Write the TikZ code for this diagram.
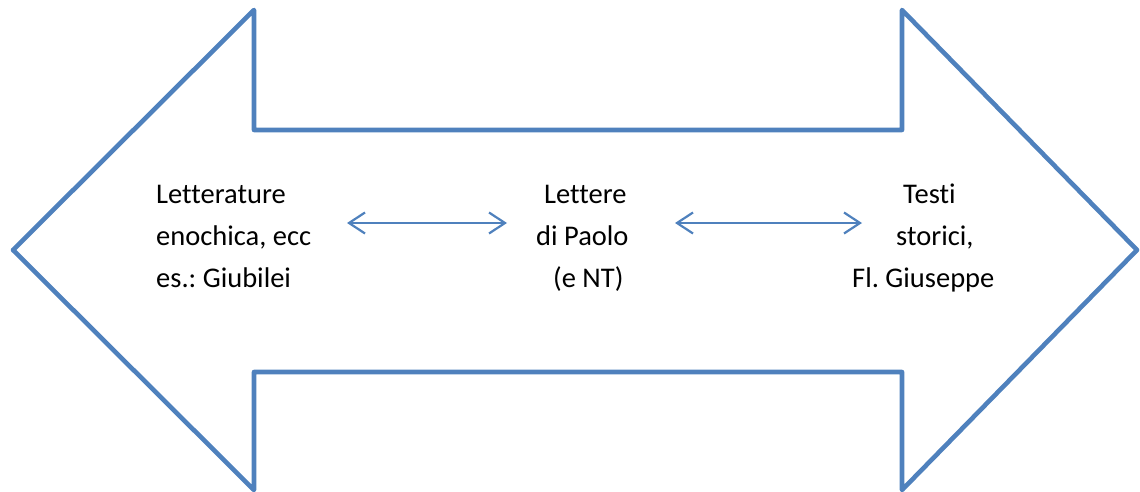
\documentclass[tikz,border=0pt]{standalone}
\usepackage{fontspec}
\setmainfont{Carlito}[Ligatures={NoCommon}]
\usetikzlibrary{arrows.meta}
\definecolor{officeblue}{HTML}{4F81BD}
\frenchspacing
\tikzset{
  outline/.style={draw=officeblue, line width=4.6pt, line join=round},
  link/.style={draw=officeblue, line width=2.2pt,
    {Straight Barb[length=16pt,width=21pt,line width=2.2pt]}-{Straight Barb[length=16pt,width=21pt,line width=2.2pt]}},
  txt/.style={anchor=base west, inner sep=0pt, font=\fontsize{28.5}{34}\selectfont, text=black}
}
\begin{document}
\begin{tikzpicture}[x=1pt, y=-1pt]
  \useasboundingbox (0,0) rectangle (1140,492);
  % double-headed block arrow
  \draw[outline] (13,250) -- (254,10) -- (254,130) -- (902,130) -- (902,10)
    -- (1137,250) -- (902,490) -- (902,372) -- (254,372) -- (254,490) -- cycle;

  % left block of text
  \node[txt] (l1) at (156,203.5) {Letterature};
  \node[txt] (l2) at (156,245) {enochica, ecc};
  \node[txt] (l3) at (156,287) {es.: Giubilei};

  % middle block of text
  \node[txt] (m1) at (544,203.5) {Lettere};
  \node[txt] (m2) at (536,245) {di Paolo};
  \node[txt] (m3) at (553,287) {(e NT)};

  % right block of text
  \node[txt] (r1) at (903,203.5) {Testi};
  \node[txt] (r2) at (896,245) {storici,};
  \node[txt] (r3) at (852,287) {Fl. Giuseppe};

  % two-way links between the blocks
  \coordinate (a1) at (347,223);
  \coordinate (a2) at (507,223);
  \coordinate (b1) at (675,223);
  \coordinate (b2) at (862,223);
  \draw[link] (a1) -- (a2);
  \draw[link] (b1) -- (b2);
\end{tikzpicture}
\end{document}
